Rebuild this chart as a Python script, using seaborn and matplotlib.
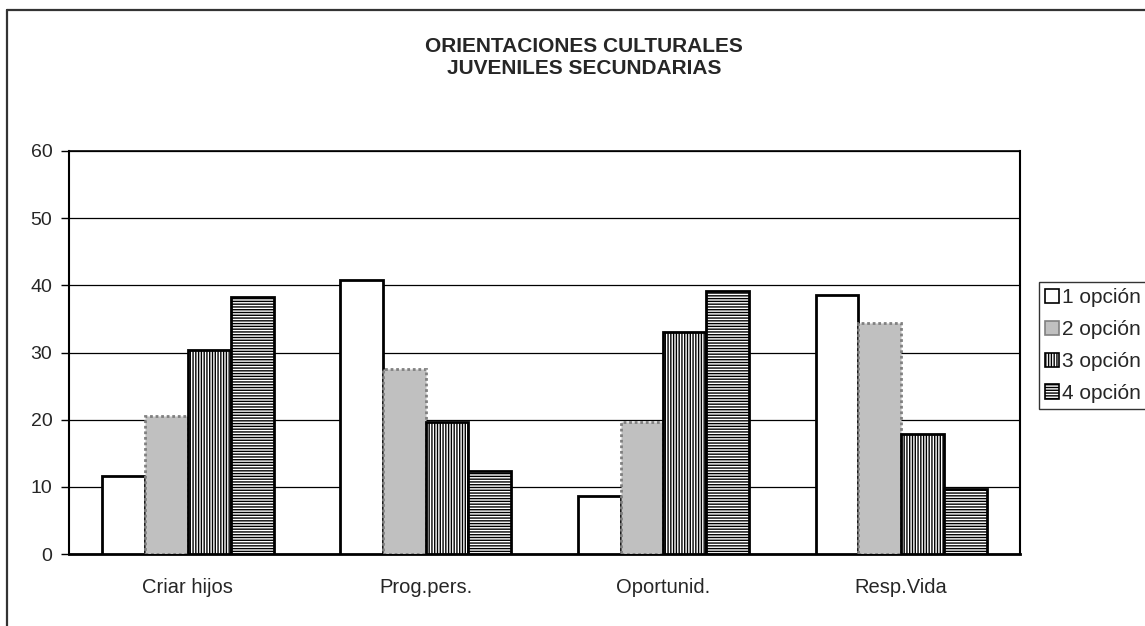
import matplotlib
matplotlib.use("Agg")
import matplotlib.pyplot as plt
from matplotlib.lines import Line2D
from matplotlib.patches import Patch
import seaborn as sns
import pandas as pd

categories = ["Criar hijos", "Prog.pers.", "Oportunid.", "Resp.Vida"]
series_names = ["1 opción", "2 opción", "3 opción", "4 opción"]
opcion_1 = [11.6, 40.8, 8.7, 38.5]
opcion_2 = [20.5, 27.6, 19.7, 34.4]
opcion_3 = [30.3, 19.7, 33.0, 17.9]
opcion_4 = [38.2, 12.4, 39.1, 9.7]
y_ticks = [0, 10, 20, 30, 40, 50, 60]
title_lines = ["ORIENTACIONES CULTURALES", "JUVENILES SECUNDARIAS"]

rows = []
for name, vals in zip(series_names, [opcion_1, opcion_2, opcion_3, opcion_4]):
    for cat, v in zip(categories, vals):
        rows.append({"categoria": cat, "serie": name, "valor": v})
df = pd.DataFrame(rows)

sns.set_style("white")
plt.rcParams["font.family"] = ["Liberation Sans", "DejaVu Sans"]
plt.rcParams["hatch.linewidth"] = 1.0

fig = plt.figure(figsize=(11.45, 6.26), dpi=100)
ax = fig.add_axes([0.0603, 0.115, 0.8306, 0.6438])

styles = {
    "1 opción": dict(facecolor="white", edgecolor="black", hatch=None, ls="-", lw=2.0),
    "2 opción": dict(facecolor="#c0c0c0", edgecolor="#808080", hatch=None, ls=(0, (1, 1)), lw=2.0),
    "3 opción": dict(facecolor="white", edgecolor="black", hatch="||||||", ls="-", lw=2.0),
    "4 opción": dict(facecolor="white", edgecolor="black", hatch="------", ls="-", lw=2.0),
}

sns.barplot(data=df, x="categoria", y="valor", hue="serie", order=categories,
            hue_order=series_names, palette=["white"] * 4, width=0.72,
            dodge=True, ax=ax, legend=False, zorder=3)

for name, cont in zip(series_names, ax.containers):
    st = styles[name]
    for bar in cont:
        bar.set_facecolor(st["facecolor"])
        bar.set_edgecolor(st["edgecolor"])
        bar.set_linewidth(st["lw"])
        bar.set_linestyle(st["ls"])
        if st["hatch"]:
            bar.set_hatch(st["hatch"])

ax.set_xlim(-0.5, 3.5)
ax.set_ylim(0, 60)
ax.set_yticks(y_ticks)
ax.set_yticklabels([str(t) for t in y_ticks], fontsize=14)
ax.set_xticks(range(len(categories)))
ax.set_xticklabels(categories, fontsize=14.5)
ax.tick_params(axis="x", which="major", length=0, pad=17)
ax.set_xticks([-0.5, 0.5, 1.5, 2.5, 3.5], minor=True)
ax.tick_params(axis="x", which="minor", length=6, width=1, color="black", direction="out")
ax.tick_params(axis="y", which="major", length=6, width=1, color="black", direction="out", left=True, pad=6)
ax.set_xlabel("")
ax.set_ylabel("")
ax.grid(axis="y", color="black", linewidth=0.9, zorder=0)
ax.set_axisbelow(True)
for sp in ax.spines.values():
    sp.set_visible(True)
    sp.set_color("black")
    sp.set_linewidth(1.2)
ax.spines["bottom"].set_linewidth(2.0)
ax.spines["left"].set_linewidth(1.5)
ax.spines["right"].set_linewidth(1.5)

handles = []
for name in series_names:
    st = styles[name]
    handles.append(Patch(facecolor=st["facecolor"], edgecolor="black" if name != "2 opción" else "#808080",
                         hatch=st["hatch"], linewidth=1.2, label=name))
leg = fig.legend(handles=handles, loc="upper left", bbox_to_anchor=(1039 / 1145, 1 - 282 / 626),
                 fontsize=15, frameon=True, fancybox=False, edgecolor="black",
                 handlelength=0.65, handleheight=0.7, handletextpad=0.15,
                 labelspacing=0.62, borderpad=0.3, borderaxespad=0)
leg.get_frame().set_linewidth(1.0)

fig.text(0.51, 1 - 46.5 / 626, title_lines[0], ha="center", va="center", fontsize=15, fontweight="bold")
fig.text(0.51, 1 - 68.5 / 626, title_lines[1], ha="center", va="center", fontsize=15, fontweight="bold")

# outer chart border (top and left edges)
fig.add_artist(Line2D([0.006, 1.0], [0.984, 0.984], transform=fig.transFigure, color="#333333", lw=1.6))
fig.add_artist(Line2D([0.006, 0.006], [0.0, 0.984], transform=fig.transFigure, color="#333333", lw=1.6))

fig.savefig("out.png", dpi=100, facecolor="white")
